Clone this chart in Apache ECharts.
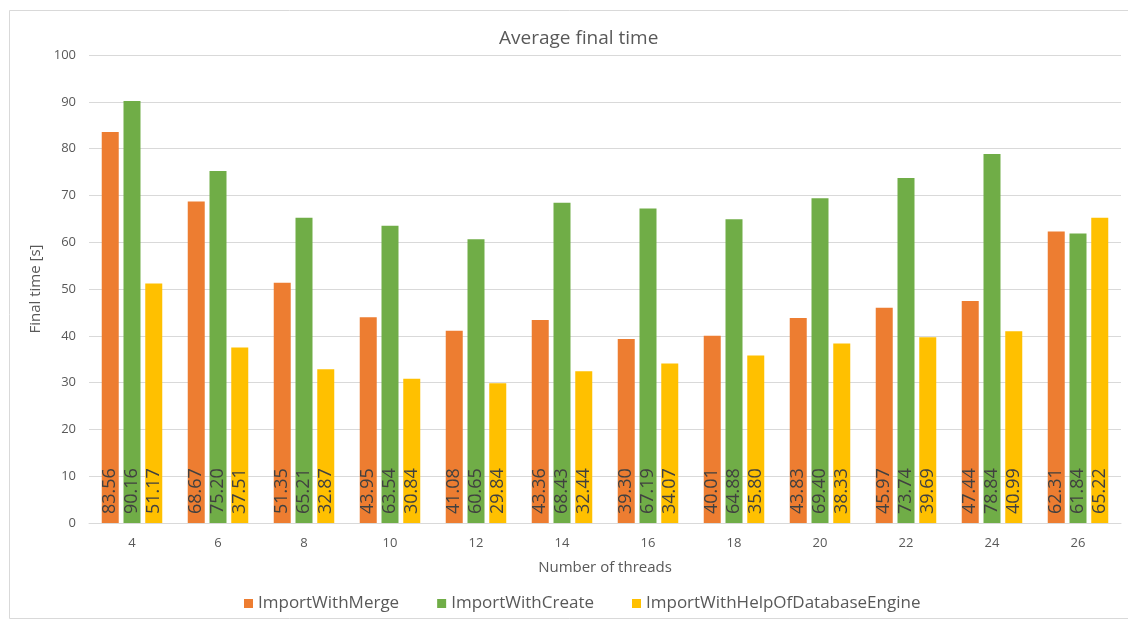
<!DOCTYPE html>
<html>
<head>
<meta charset="utf-8">
<script src="https://cdn.jsdelivr.net/npm/echarts@6/dist/echarts.min.js"></script>
<style>
html,body{margin:0;padding:0;background:#fff;}
#chart{width:1128px;height:621px;}
</style>
</head>
<body>
<div id="chart"></div>
<script>
// Thread counts on the x axis
const threads = ['4', '6', '8', '10', '12', '14', '16', '18', '20', '22', '24', '26'];
// Average final time per import strategy, in seconds
const importWithMerge = [83.56, 68.67, 51.35, 43.95, 41.08, 43.36, 39.30, 40.01, 43.83, 45.97, 47.44, 62.31];
const importWithCreate = [90.16, 75.20, 65.21, 63.54, 60.65, 68.43, 67.19, 64.88, 69.40, 73.74, 78.84, 61.84];
const importWithHelpOfDatabaseEngine = [51.17, 37.51, 32.87, 30.84, 29.84, 32.44, 34.07, 35.80, 38.33, 39.69, 40.99, 65.22];
const seriesNames = ['ImportWithMerge', 'ImportWithCreate', 'ImportWithHelpOfDatabaseEngine'];
const seriesColors = ['#ED7D31', '#70AD47', '#FFC000'];

const FONT = '"Open Sans", sans-serif';
const chart = echarts.init(document.getElementById('chart'));

const label = {
  show: true,
  position: 'insideBottom',
  rotate: 90,
  align: 'left',
  verticalAlign: 'middle',
  distance: 9,
  color: '#404040',
  fontFamily: FONT,
  fontSize: 18,
  formatter: p => p.value.toFixed(2)
};

const seriesData = [importWithMerge, importWithCreate, importWithHelpOfDatabaseEngine];

chart.setOption({
  animation: false,
  backgroundColor: '#fff',
  graphic: [{
    type: 'rect',
    shape: { x: 9.5, y: 10.5, width: 1130, height: 608 },
    style: { fill: 'none', stroke: '#D9D9D9', lineWidth: 1 },
    z: -1
  }],
  title: {
    text: 'Average final time',
    left: 494,
    top: 24,
    textStyle: { color: '#595959', fontFamily: FONT, fontSize: 19, fontWeight: 'normal' }
  },
  legend: {
    data: seriesNames,
    bottom: 4,
    left: 239,
    itemWidth: 9,
    itemHeight: 9,
    itemGap: 38,
    icon: 'rect',
    textStyle: { color: '#595959', fontFamily: FONT, fontSize: 17 }
  },
  grid: { left: 89, right: 7, top: 55, bottom: 98, containLabel: false },
  xAxis: {
    type: 'category',
    data: threads,
    name: 'Number of threads',
    nameLocation: 'middle',
    nameGap: 37,
    nameTextStyle: { color: '#595959', fontFamily: FONT, fontSize: 15 },
    axisLine: { lineStyle: { color: '#D9D9D9', width: 1 } },
    axisTick: { show: false },
    axisLabel: { color: '#595959', fontFamily: FONT, fontSize: 13, margin: 14 }
  },
  yAxis: {
    type: 'value',
    min: 0,
    max: 100,
    interval: 10,
    name: 'Final time [s]',
    nameLocation: 'middle',
    nameGap: 40,
    nameRotate: 90,
    nameTextStyle: { color: '#595959', fontFamily: FONT, fontSize: 15 },
    axisLine: { show: false },
    axisTick: { show: false },
    axisLabel: { color: '#595959', fontFamily: FONT, fontSize: 13, margin: 13 },
    splitLine: { lineStyle: { color: '#D9D9D9', width: 1 } }
  },
  series: seriesNames.map((name, i) => ({
    name,
    type: 'bar',
    data: seriesData[i],
    barWidth: 17,
    barGap: '28%',
    itemStyle: { color: seriesColors[i] },
    label
  }))
});
</script>
</body>
</html>
